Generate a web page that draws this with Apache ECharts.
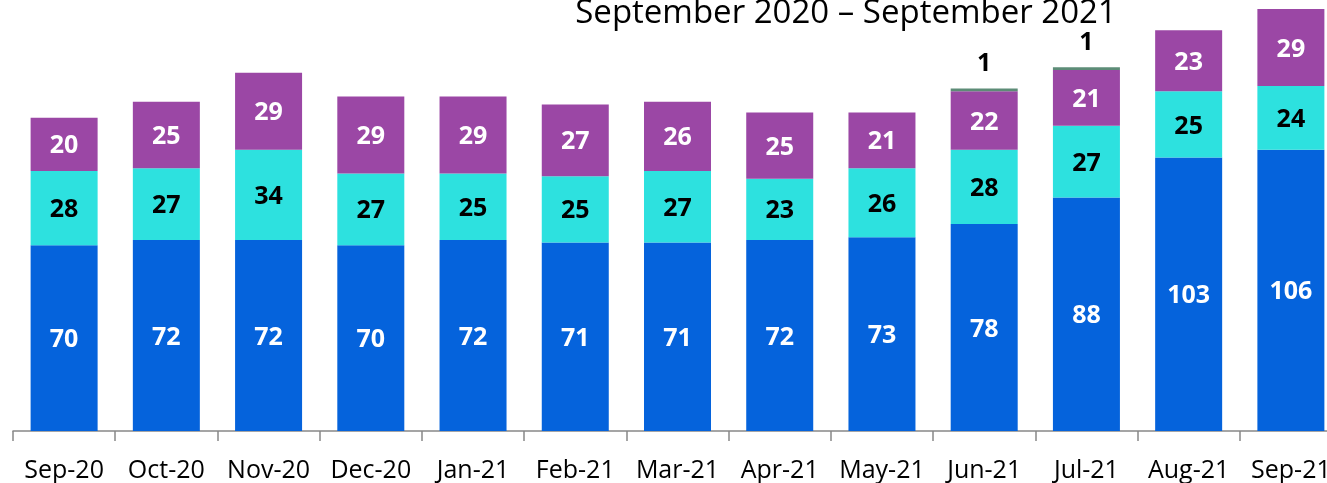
<!DOCTYPE html>
<html>
<head>
<meta charset="utf-8">
<script src="https://cdn.jsdelivr.net/npm/echarts@6/dist/echarts.min.js"></script>
<style>
  html, body { margin: 0; padding: 0; background: #fff; overflow: hidden; }
  #chart { width: 1345px; height: 483px; }
</style>
</head>
<body>
<div id="chart"></div>
<script>
const months = ['Sep-20', 'Oct-20', 'Nov-20', 'Dec-20', 'Jan-21', 'Feb-21', 'Mar-21',
  'Apr-21', 'May-21', 'Jun-21', 'Jul-21', 'Aug-21', 'Sep-21'];
const blueValues = [70, 72, 72, 70, 72, 71, 71, 72, 73, 78, 88, 103, 106];
const cyanValues = [28, 27, 34, 27, 25, 25, 27, 23, 26, 28, 27, 25, 24];
const purpleValues = [20, 25, 29, 29, 29, 27, 26, 25, 21, 22, 21, 23, 29];
const greenValues = [null, null, null, null, null, null, null, null, null, 1, 1, null, null];

// the plot runs past the right edge of the window, like the original
const chart = echarts.init(document.getElementById('chart'));

const labelFont = {
  show: true,
  position: 'inside',
  offset: [0, 2],
  fontFamily: 'Open Sans',
  fontWeight: 'bold',
  fontSize: 25
};

const option = {
  animation: false,
  title: {
    text: 'September 2020 \u2013 September 2021',
    left: 841,
    top: -8,
    textAlign: 'center',
    textStyle: {
      fontFamily: 'Open Sans',
      fontWeight: 'normal',
      fontSize: 33,
      color: '#000'
    }
  },
  grid: {
    left: 13,
    top: 1,
    width: 1329,
    bottom: 51,
    containLabel: false
  },
  xAxis: {
    type: 'category',
    data: months,
    axisLine: { lineStyle: { color: '#888', width: 1.5 } },
    axisTick: { show: true, length: 10, lineStyle: { color: '#888', width: 1.5 } },
    axisLabel: {
      interval: 0,
      margin: 27,
      fontFamily: 'Open Sans',
      fontSize: 25,
      color: '#000'
    }
  },
  yAxis: {
    type: 'value',
    min: 0,
    max: 162,
    show: false,
    splitLine: { show: false }
  },
  series: [
    {
      type: 'bar',
      stack: 'total',
      barWidth: 67,
      data: blueValues,
      itemStyle: { color: '#0563DC' },
      label: Object.assign({}, labelFont, { color: '#fff' })
    },
    {
      type: 'bar',
      stack: 'total',
      data: cyanValues,
      itemStyle: { color: '#2DE1DF' },
      label: Object.assign({}, labelFont, { color: '#000' })
    },
    {
      type: 'bar',
      stack: 'total',
      data: purpleValues,
      itemStyle: { color: '#9B47A5' },
      label: Object.assign({}, labelFont, { color: '#fff' })
    },
    {
      type: 'bar',
      stack: 'total',
      data: greenValues,
      itemStyle: { color: '#5D8C77' },
      label: Object.assign({}, labelFont, { position: 'top', offset: [0, 0], distance: 12, color: '#000' })
    }
  ]
};

chart.setOption(option);
</script>
</body>
</html>
